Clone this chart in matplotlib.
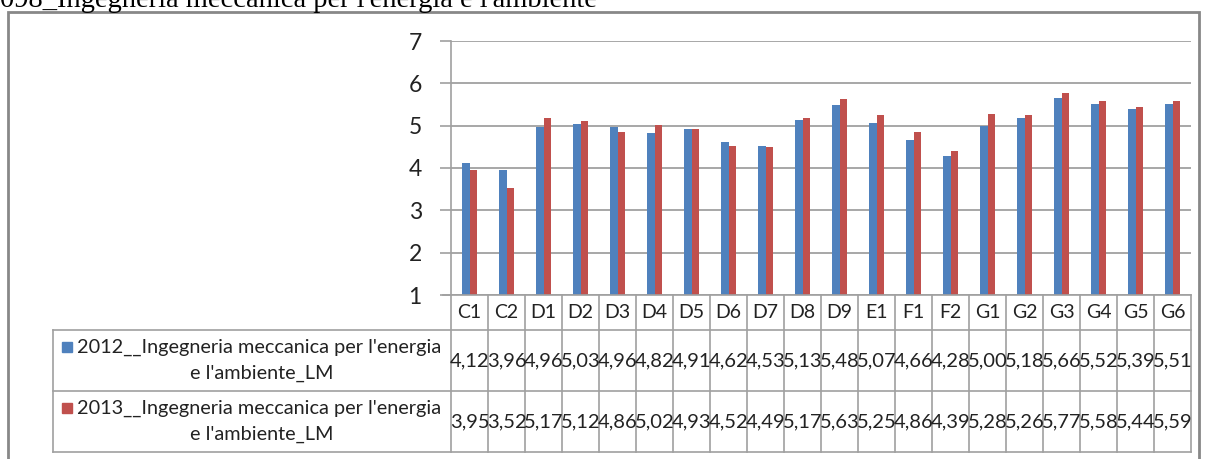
import numpy as np
import matplotlib.pyplot as plt
from matplotlib.transforms import blended_transform_factory
from matplotlib.patches import Rectangle
from matplotlib.lines import Line2D

categories = ["C1", "C2", "D1", "D2", "D3", "D4", "D5", "D6", "D7", "D8",
              "D9", "E1", "F1", "F2", "G1", "G2", "G3", "G4", "G5", "G6"]
values_2012 = [4.12, 3.96, 4.96, 5.03, 4.96, 4.82, 4.91, 4.62, 4.53, 5.13,
               5.48, 5.07, 4.66, 4.28, 5.00, 5.18, 5.66, 5.52, 5.39, 5.51]
values_2013 = [3.95, 3.52, 5.17, 5.12, 4.86, 5.02, 4.93, 4.52, 4.49, 5.17,
               5.63, 5.25, 4.86, 4.39, 5.28, 5.26, 5.77, 5.58, 5.44, 5.59]
series_names = ["2012__Ingegneria meccanica per l'energia",
                "2013__Ingegneria meccanica per l'energia"]
series_tail = "e l'ambiente_LM"
title = "098_Ingegneria meccanica per l'energia e l'ambiente"
y_ticks = [1, 2, 3, 4, 5, 6, 7]

blue = "#4F81BD"
red = "#C0504D"
grid_c = "#A0A0A0"
txt_c = "#222222"
font = "Lato"

W, H = 1208, 459
fig = plt.figure(figsize=(W / 100, H / 100), dpi=100)


def fx(px):
    return px / W


def fy(py):
    return 1 - py / H


# plot area in pixels
L, R, T, B = 451, 1191, 41, 295
ax = fig.add_axes([fx(L), fy(B), fx(R) - fx(L), fy(T) - fy(B)])

x = np.arange(len(categories))
bw = 0.21
ax.bar(x - bw / 2, values_2012, bw, color=blue, zorder=3)
ax.bar(x + bw / 2, values_2013, bw, color=red, zorder=3)

ax.set_xlim(-0.5, len(categories) - 0.5)
ax.set_ylim(1, 7)
ax.set_yticks(y_ticks)
ax.set_yticklabels([str(t) for t in y_ticks], fontsize=16.5, family=font, color=txt_c)
ax.tick_params(axis="y", length=8, width=1.2, color=grid_c, pad=13)
ax.set_xticks([])
ax.grid(axis="y", color=grid_c, linewidth=1.3, zorder=0)
for side in ["top", "right", "bottom"]:
    ax.spines[side].set_visible(False)
ax.spines["left"].set_color(grid_c)
ax.spines["left"].set_linewidth(1.2)

# table below the axis, x from data coords, y from figure coords
tr = blended_transform_factory(ax.transData, fig.transFigure)
row_cat = (B, 330)
row1 = (330, 391)
row2 = (391, 452)

lkw = dict(color=grid_c, linewidth=1.2, clip_on=False)

# horizontal lines
fig.add_artist(Line2D([fx(443), fx(R)], [fy(B), fy(B)], **lkw))
for yy in [330, 391, 452]:
    fig.add_artist(Line2D([fx(53), fx(R)], [fy(yy), fy(yy)], **lkw))
fig.add_artist(Line2D([fx(53), fx(53)], [fy(330), fy(452)], **lkw))

# vertical column lines
for b in np.arange(len(categories) + 1) - 0.5:
    ax.plot([b, b], [fy(B), fy(452)], transform=tr, **lkw)

for i, c in enumerate(categories):
    ax.text(i, fy(sum(row_cat) / 2), c, transform=tr, ha="center", va="center",
            fontsize=14, family=font, color=txt_c)
    ax.text(i, fy(sum(row1) / 2), f"{values_2012[i]:.2f}".replace(".", ","),
            transform=tr, ha="center", va="center", fontsize=14.5, family=font, color=txt_c)
    ax.text(i, fy(sum(row2) / 2), f"{values_2013[i]:.2f}".replace(".", ","),
            transform=tr, ha="center", va="center", fontsize=14.5, family=font, color=txt_c)

# legend cells
for row, name, col in [(row1, series_names[0], blue), (row2, series_names[1], red)]:
    y1 = row[0] + 17
    y2 = row[0] + 43
    fig.add_artist(Rectangle((fx(62), fy(y1 + 5)), fx(10), fy(0) - fy(10),
                             transform=fig.transFigure, color=col))
    fig.text(fx(77), fy(y1), name, ha="left", va="center", fontsize=14.3,
             family=font, color=txt_c)
    fig.text(fx(262), fy(y2), series_tail, ha="center", va="center", fontsize=14.3,
             family=font, color=txt_c)

# outer chart frame
fig.add_artist(Rectangle((fx(8), fy(470)), fx(1199) - fx(8), fy(12) - fy(470),
                         transform=fig.transFigure, fill=False,
                         edgecolor="#888888", linewidth=2))

# title, cut at the top edge like the source
fig.text(fx(0), fy(7), title, ha="left", va="baseline", fontsize=20.5,
         family="Liberation Serif", color="black")

fig.savefig("out.png", dpi=100)
